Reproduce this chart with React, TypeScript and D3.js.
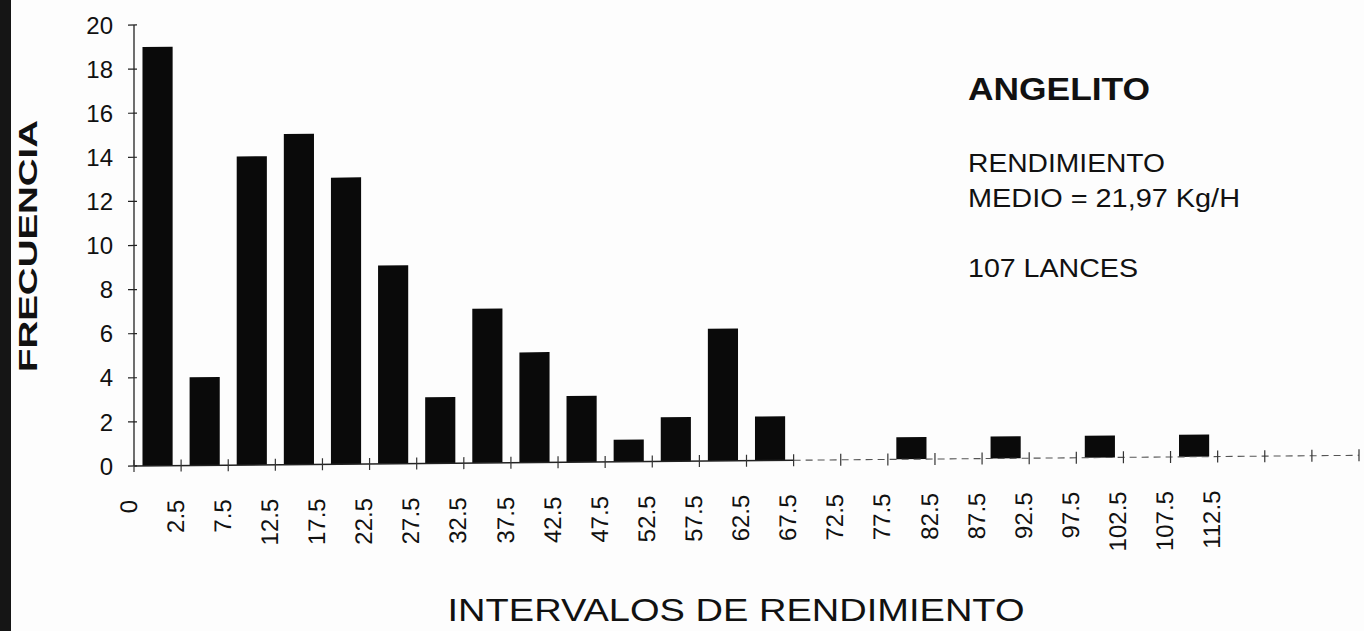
import React from "react";
import * as d3 from "d3";

const tickLabels = ["0", "2.5", "7.5", "12.5", "17.5", "22.5", "27.5", "32.5", "37.5", "42.5", "47.5", "52.5", "57.5", "62.5", "67.5", "72.5", "77.5", "82.5", "87.5", "92.5", "97.5", "102.5", "107.5", "112.5"];
// frequency of each interval between consecutive tick labels
const frequencies = [19, 4, 14, 15, 13, 9, 3, 7, 5, 3, 1, 2, 6, 2, 0, 0, 1, 0, 1, 0, 1, 0, 1];
const extraAxisIntervals = 3; // unlabeled axis extension after 112.5
const yTicks = [0, 2, 4, 6, 8, 10, 12, 14, 16, 18, 20];
const solidAxisIntervals = 14;

const title = "ANGELITO";
const noteLines = ["RENDIMIENTO", "MEDIO = 21,97 Kg/H"];
const lancesText = "107 LANCES";
const xTitle = "INTERVALOS DE RENDIMIENTO";
const yTitle = "FRECUENCIA";

const W = 1364;
const H = 631;
const FONT = "'Liberation Sans', Arial, Helvetica, sans-serif";

export default function App() {
  const nIntervals = tickLabels.length - 1 + extraAxisIntervals;
  const x0 = 134;
  const x1 = 1359;
  const x = d3.scaleLinear().domain([0, nIntervals]).range([x0, x1]);
  const band = d3
    .scaleBand<number>()
    .domain(d3.range(nIntervals))
    .range([x0, x1])
    .paddingInner(0.36)
    .paddingOuter(0.18);
  const y = d3.scaleLinear().domain([0, 20]).range([466, 25]);
  const base = y(0);

  return (
    <svg
      width={W}
      height={H}
      style={{ position: "absolute", left: 0, top: 0, background: "#fff" }}
      fontFamily={FONT}
    >
      <rect x={0} y={0} width={W} height={H} fill="#fdfdfd" />
      {/* dark scan edge */}
      <rect x={0} y={0} width={11} height={H} fill="#151515" />

      <g transform={`translate(${x0},0) skewY(-0.5) translate(${-x0},0)`}>
        {/* bars */}
        {frequencies.map((f, i) =>
          f > 0 ? (
            <rect
              key={i}
              x={band(i)}
              y={y(f)}
              width={band.bandwidth()}
              height={base - y(f)}
              fill="#0a0a0a"
            />
          ) : null
        )}
        {/* y axis */}
        <line x1={x0} x2={x0} y1={y(20)} y2={base} stroke="#222" strokeWidth={1.3} />
        {yTicks.map((t) => (
          <line key={t} x1={x0 - 6} x2={x0 + 3} y1={y(t)} y2={y(t)} stroke="#222" strokeWidth={1.2} />
        ))}
        {/* x axis */}
        <line x1={x(0)} x2={x(solidAxisIntervals)} y1={base} y2={base} stroke="#222" strokeWidth={1.4} />
        <line
          x1={x(solidAxisIntervals)}
          x2={x(nIntervals)}
          y1={base}
          y2={base}
          stroke="#555"
          strokeWidth={1.1}
          strokeDasharray="7,5"
        />
        {d3.range(nIntervals + 1).map((i) => (
          <line
            key={i}
            x1={x(i)}
            x2={x(i)}
            y1={base - 6}
            y2={base + 6}
            stroke="#333"
            strokeWidth={1.2}
          />
        ))}
        {tickLabels.map((l, i) => (
          <text
            key={l}
            transform={`translate(${x(i) - 6},${500}) rotate(-90)`}
            textAnchor="end"
            dy="0.36em"
            fontSize={24}
            fill="#111"
          >
            {l}
          </text>
        ))}
      </g>

      {/* y tick labels */}
      {yTicks.map((t) => (
        <text key={t} x={113} y={y(t)} dy="0.36em" textAnchor="end" fontSize={24} fill="#111">
          {t}
        </text>
      ))}

      {/* y title */}
      <text
        transform={`translate(37,246) rotate(-90)`}
        textAnchor="middle"
        fontSize={25}
        fontWeight="bold"
        fill="#111"
        textLength={252}
        lengthAdjust="spacingAndGlyphs"
      >
        {yTitle}
      </text>

      {/* annotations */}
      <text x={968} y={100} fontSize={31} fontWeight="bold" fill="#111" textLength={182} lengthAdjust="spacingAndGlyphs">
        {title}
      </text>
      <text x={968} y={172} fontSize={26} fill="#111" textLength={197} lengthAdjust="spacingAndGlyphs">
        {noteLines[0]}
      </text>
      <text x={968} y={207} fontSize={26} fill="#111" textLength={272} lengthAdjust="spacingAndGlyphs">
        {noteLines[1]}
      </text>
      <text x={968} y={277} fontSize={26} fill="#111" textLength={170} lengthAdjust="spacingAndGlyphs">
        {lancesText}
      </text>

      {/* x title */}
      <text
        x={736}
        y={621}
        textAnchor="middle"
        fontSize={31}
        fill="#111"
        textLength={577}
        lengthAdjust="spacingAndGlyphs"
      >
        {xTitle}
      </text>
    </svg>
  );
}
